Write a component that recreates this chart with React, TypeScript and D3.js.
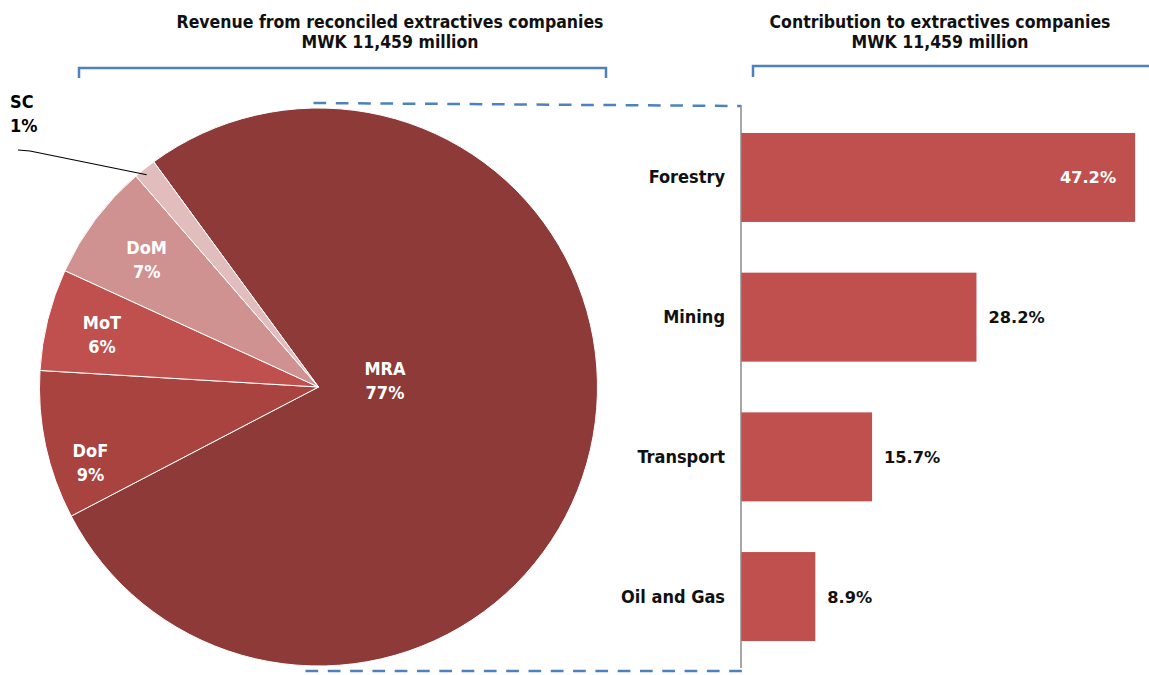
import React from "react";
import * as d3 from "d3";

// ---- data ----
const pieNames = ["MRA", "DoF", "MoT", "DoM", "SC"];
const pieValues = [77.4, 8.6, 5.9, 6.8, 1.3];
const pieLabels = ["77%", "9%", "6%", "7%", "1%"];
const pieColors = ["#8E3A38", "#A8433F", "#C0504D", "#D09291", "#E2BDBD"];

const barCategories = ["Forestry", "Mining", "Transport", "Oil and Gas"];
const barValues = [47.2, 28.2, 15.7, 8.9];
const barLabels = ["47.2%", "28.2%", "15.7%", "8.9%"];

const leftTitle = ["Revenue from reconciled extractives companies", "MWK 11,459 million"];
const rightTitle = ["Contribution to extractives companies", "MWK 11,459 million"];

// ---- layout ----
const W = 1149;
const H = 675;
const cx = 318.5;
const cy = 387;
const R = 279;
const startDeg = -36.2;
const FONT = "'DejaVu Sans Condensed', 'DejaVu Sans', sans-serif";
const VFONT = "'DejaVu Sans', sans-serif";
const BLUE = "#4F81BD";

// label placement tweaks (radius ratio, angle nudge deg)
const labelAdjust: Record<string, { r: number; da: number }> = {
  MRA: { r: 0.24, da: -20 },
  DoF: { r: 0.86, da: -6 },
  MoT: { r: 0.8, da: 0 },
  DoM: { r: 0.77, da: 0 },
};

export default function App() {
  const start = (startDeg * Math.PI) / 180;
  const pie = d3
    .pie<number>()
    .sort(null)
    .value((d) => d)
    .startAngle(start)
    .endAngle(start + 2 * Math.PI);
  const arcs = pie(pieValues);
  const arcGen = d3.arc<d3.PieArcDatum<number>>().innerRadius(0).outerRadius(R);

  const axisX = 741;
  const x = d3.scaleLinear().domain([0, 50]).range([axisX, axisX + 417.5]);
  const y = d3
    .scaleBand<string>()
    .domain(barCategories)
    .range([107.6, 666.4])
    .paddingInner(0.363)
    .paddingOuter(0.1815);

  const polar = (ang: number, r: number) => [cx + r * Math.sin(ang), cy - r * Math.cos(ang)];

  // SC leader
  const scArc = arcs[4];
  const scMid = (scArc.startAngle + scArc.endAngle) / 2;
  const [lx, ly] = polar(scMid, R);

  return (
    <svg width={W} height={H} style={{ position: "absolute", left: 0, top: 0, background: "#fff" }}>
      {/* titles */}
      {leftTitle.map((t, i) => (
        <text key={"lt" + i} x={390} y={28 + i * 19.5} textAnchor="middle" fontFamily={FONT} fontWeight="bold" fontSize={17.5} fill="#111">
          {t}
        </text>
      ))}
      {rightTitle.map((t, i) => (
        <text key={"rt" + i} x={940} y={28 + i * 19.5} textAnchor="middle" fontFamily={FONT} fontWeight="bold" fontSize={17.5} fill="#111">
          {t}
        </text>
      ))}
      {/* brackets */}
      <path d={`M79,78 L79,68 L606,68 L606,78`} fill="none" stroke={BLUE} strokeWidth={2.5} />
      <path d={`M753,77 L753,66 L1152,66`} fill="none" stroke={BLUE} strokeWidth={2.5} />

      {/* pie */}
      <g transform={`translate(${cx},${cy})`}>
        {arcs.map((a, i) => (
          <path key={i} d={arcGen(a) || ""} fill={pieColors[i]} stroke="#fff" strokeWidth={1} />
        ))}
      </g>
      {arcs.map((a, i) => {
        const name = pieNames[i];
        const adj = labelAdjust[name];
        if (!adj) return null;
        const mid = (a.startAngle + a.endAngle) / 2 + (adj.da * Math.PI) / 180;
        const [px, py] = polar(mid, R * adj.r);
        return (
          <text key={"pl" + i} x={px} textAnchor="middle" fontFamily={FONT} fontWeight="bold" fontSize={18} fill="#fff">
            <tspan x={px} y={py - 4}>{name}</tspan>
            <tspan x={px} y={py + 20}>{pieLabels[i]}</tspan>
          </text>
        );
      })}
      {/* SC outside label */}
      <polyline points={`18,150 30,151 ${lx + 2},${ly + 6}`} fill="none" stroke="#000" strokeWidth={1.2} />
      <text fontFamily={FONT} fontWeight="bold" fontSize={18} fill="#000">
        <tspan x={10} y={108}>{pieNames[4]}</tspan>
        <tspan x={10} y={132}>{pieLabels[4]}</tspan>
      </text>

      {/* connector dashes */}
      <line x1={cx - 5} y1={103} x2={axisX} y2={106} stroke={BLUE} strokeWidth={2.5} strokeDasharray="12.7 9.6" />
      <line x1={cx - 13} y1={671} x2={axisX + 2} y2={671} stroke={BLUE} strokeWidth={2.5} strokeDasharray="12.7 9.6" />

      {/* bars */}
      {barCategories.map((c, i) => {
        const y0 = y(c) as number;
        const bw = y.bandwidth();
        const inside = i === 0;
        return (
          <g key={c}>
            <rect x={x(0)} y={y0} width={x(barValues[i]) - x(0)} height={bw} fill="#C0504D" />
            <text x={725} y={y0 + bw / 2 + 6} textAnchor="end" fontFamily={FONT} fontWeight="bold" fontSize={18} fill="#111">
              {c}
            </text>
            <text
              x={inside ? x(barValues[i]) - 19 : x(barValues[i]) + 12}
              y={y0 + bw / 2 + 6}
              textAnchor={inside ? "end" : "start"}
              fontFamily={VFONT}
              fontWeight="bold"
              fontSize={16.2}
              fill={inside ? "#fff" : "#111"}
            >
              {barLabels[i]}
            </text>
          </g>
        );
      })}
      <line x1={axisX} y1={105} x2={axisX} y2={668} stroke="#8a8a8a" strokeWidth={1.5} />
    </svg>
  );
}
